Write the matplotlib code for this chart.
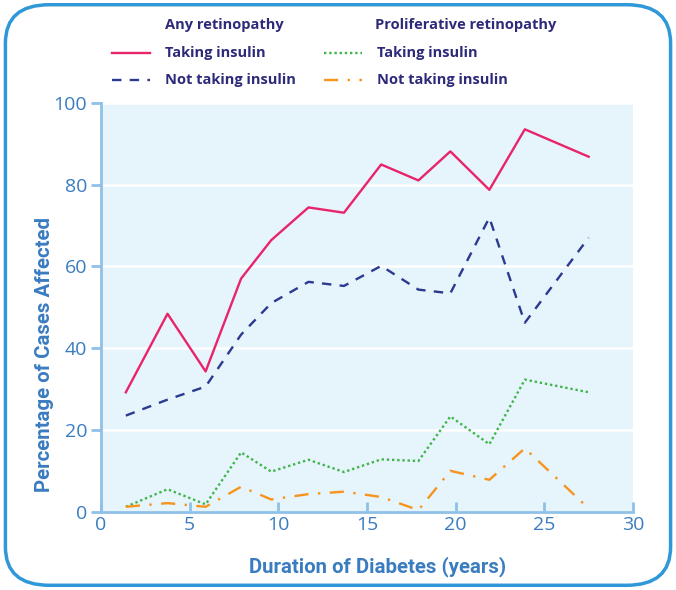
import numpy as np
import matplotlib.pyplot as plt
from matplotlib.patches import FancyBboxPatch
from matplotlib.lines import Line2D

# duration of diabetes (years)
duration = [1.4, 3.75, 5.9, 7.9, 9.6, 11.7, 13.7, 15.8, 17.9, 19.7, 21.9, 23.9, 27.5]

# any retinopathy
any_insulin = [29.2, 48.4, 34.3, 57.0, 66.4, 74.4, 73.1, 84.9, 81.0, 88.1, 78.7, 93.5, 86.8]
any_no_insulin = [23.5, 27.4, 30.6, 43.3, 51.0, 56.2, 55.2, 60.1, 54.3, 53.4, 71.9, 46.2, 67.0]

# proliferative retinopathy
prolif_insulin = [1.2, 5.5, 1.8, 14.5, 9.8, 12.7, 9.7, 12.8, 12.4, 23.3, 16.5, 32.3, 29.2]
prolif_no_insulin = [1.2, 2.1, 1.2, 6.1, 3.0, 4.3, 4.9, 3.6, 0.4, 10.0, 7.8, 15.5, 0.8]

PINK = '#e8246a'
NAVY = '#2b3990'
GREEN = '#3fb54a'
ORANGE = '#f7941d'
TEXT = '#2d2a7a'
AXBLUE = '#8fc1e8'
LABBLUE = '#3a7cc0'

fig = plt.figure(figsize=(6.76, 5.90), dpi=100)

# rounded frame
frame = FancyBboxPatch((0.008, 0.008), 0.984, 0.984,
                       boxstyle="round,pad=0,rounding_size=0.065",
                       transform=fig.transFigure, fill=False,
                       edgecolor='#2f98d8', linewidth=2.5)
fig.patches.append(frame)

ax = fig.add_axes([0.1494, 0.1327, 0.787, 0.6932])
ax.set_facecolor('#e6f4fb')

ax.plot(duration, any_insulin, color=PINK, lw=1.7, ls='-')
ax.plot(duration, any_no_insulin, color=NAVY, lw=1.7, ls=(0, (4, 3.5)))
ax.plot(duration, prolif_insulin, color=GREEN, lw=1.7, ls=(0, (1, 1.2)))
ax.plot(duration, prolif_no_insulin, color=ORANGE, lw=1.7, ls=(0, (6, 4, 1, 4)))

ax.set_xlim(0, 30)
ax.set_ylim(0, 100)
ax.set_xticks(range(0, 31, 5))
ax.set_yticks(range(0, 101, 20))
ax.yaxis.grid(True, color='white', lw=1.8)
ax.set_axisbelow(True)

for s in ['top', 'right']:
    ax.spines[s].set_visible(False)
for s in ['left', 'bottom']:
    ax.spines[s].set_color(AXBLUE)
    ax.spines[s].set_linewidth(2)

ax.tick_params(axis='y', direction='out', length=7, width=2, color=AXBLUE,
               labelcolor=LABBLUE, labelsize=14, pad=3)
ax.tick_params(axis='x', direction='in', length=7, width=2, color=AXBLUE,
               labelcolor=LABBLUE, labelsize=14, pad=3)
for lab in ax.get_xticklabels() + ax.get_yticklabels():
    lab.set_family('Open Sans')

ax.set_ylabel('Percentage of Cases Affected', fontsize=14.7, fontweight='bold',
              color=LABBLUE, family='Roboto')
ax.set_xlabel('Duration of Diabetes (years)', fontsize=14.7, fontweight='bold',
              color=LABBLUE, family='Roboto')
ax.yaxis.set_label_coords(-0.089, 0.385)
ax.xaxis.set_label_coords(0.52, -0.108)

# legend drawn by hand
def fx(px):
    return px / 676.0

def fy(py):
    return 1 - py / 590.0

fig.text(fx(165), fy(25), 'Any retinopathy', color=TEXT, fontsize=10.5,
         fontweight='bold', family='Open Sans', va='center')
fig.text(fx(375), fy(25), 'Proliferative retinopathy', color=TEXT, fontsize=10.5,
         fontweight='bold', family='Open Sans', va='center')

rows = [
    (112, 53, PINK, '-', 'Taking insulin'),
    (112, 80, NAVY, (0, (4, 3.5)), 'Not taking insulin'),
    (324, 53, GREEN, (0, (1, 1.2)), 'Taking insulin'),
    (324, 80, ORANGE, (0, (6, 4, 1, 4)), 'Not taking insulin'),
]
for x0, y0, c, ls, txt in rows:
    fig.lines.append(Line2D([fx(x0), fx(x0 + 38)], [fy(y0), fy(y0)],
                            transform=fig.transFigure, color=c, lw=1.7, ls=ls))
    fig.text(fx(x0 + 53), fy(y0), txt, color=TEXT, fontsize=10.5,
             fontweight='bold', family='Open Sans', va='center')

fig.savefig('out.png', dpi=100)
